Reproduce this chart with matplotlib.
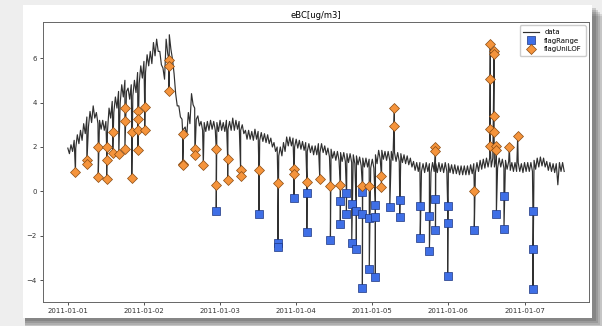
import numpy as np
import pandas as pd
import matplotlib
matplotlib.use("Agg")
import matplotlib.pyplot as plt
import matplotlib.dates as mdates
from matplotlib.patches import Rectangle

# eBC band: upper / lower edge each hour from 2011-01-01 00:00
start = "2011-01-01"
ebc_hi = [
    1.95, 2.1, 2.3, 2.55, 2.75, 3.05, 3.35, 3.6, 3.85, 3.55, 3.2, 3.2,
    3.15, 3.75, 4.05, 4.25, 4.5, 4.8, 5.0, 4.65, 4.8, 5.0, 5.35, 5.65,
    5.85, 6.15, 6.3, 6.7, 6.85, 6.3, 5.55, 6.85, 7.05, 5.95, 4.4, 3.85,
    3.25, 2.9, 3.55, 4.4, 3.75, 3.4, 3.15, 3.1, 3.15, 3.2, 3.15, 3.1,
    3.2, 3.1, 3.2, 3.15, 3.3, 3.2, 3.15, 3.0, 2.75, 2.75, 2.7, 2.8,
    2.7, 2.65, 2.6, 2.55, 2.4, 2.2, 2.0, 2.0, 2.2, 2.45, 2.45, 2.4,
    2.35, 2.3, 2.25, 2.2, 2.15, 2.05, 2.05, 2.15, 2.15, 2.05, 1.95, 1.9,
    1.8, 1.8, 1.75, 1.75, 1.7, 1.7, 1.65, 1.6, 1.55, 1.5, 1.5, 1.45,
    1.45, 1.65, 1.85, 1.85, 1.8, 1.8, 1.8, 1.75, 1.75, 1.7, 1.65, 1.6,
    1.5, 1.35, 1.3, 1.3, 1.25, 1.3, 1.25, 1.3, 1.25, 1.3, 1.25, 1.3,
    1.25, 1.2, 1.2, 1.15, 1.15, 1.15, 1.15, 1.2, 1.25, 1.3, 1.4, 1.45,
    1.5, 1.5, 1.5, 1.45, 1.5, 1.45, 1.4, 1.35, 1.3, 1.3, 1.3, 1.25,
    1.3, 1.3, 1.3, 1.4, 1.5, 1.55, 1.5, 1.35, 1.3, 1.25, 1.25, 1.3, 1.3,
]
ebc_lo = [
    1.7, 1.8, 1.95, 2.15, 2.3, 2.6, 2.9, 3.1, 3.3, 3.05, 2.8, 2.75,
    2.7, 3.3, 3.55, 3.75, 3.95, 4.25, 4.5, 4.15, 4.3, 4.45, 4.85, 5.1,
    5.35, 5.65, 5.75, 6.1, 6.3, 5.7, 5.05, 6.2, 6.4, 5.3, 3.85, 3.35,
    2.8, 2.5, 3.05, 3.9, 3.25, 2.95, 2.75, 2.7, 2.75, 2.8, 2.75, 2.7,
    2.75, 2.7, 2.8, 2.75, 2.75, 2.8, 2.75, 2.6, 2.35, 2.35, 2.3, 2.35,
    2.3, 2.25, 2.2, 2.15, 2.0, 1.8, 1.6, 1.6, 1.8, 2.05, 2.05, 2.0,
    1.95, 1.9, 1.85, 1.8, 1.75, 1.65, 1.65, 1.75, 1.75, 1.65, 1.55, 1.5,
    1.4, 1.4, 1.35, 1.35, 1.3, 1.3, 1.25, 1.2, 1.15, 1.1, 1.1, 1.05,
    1.05, 1.25, 1.45, 1.45, 1.4, 1.4, 1.4, 1.35, 1.35, 1.3, 1.25, 1.2,
    1.1, 0.95, 0.9, 0.9, 0.85, 0.9, 0.85, 0.9, 0.85, 0.9, 0.85, 0.9,
    0.85, 0.8, 0.8, 0.75, 0.75, 0.75, 0.75, 0.8, 0.85, 0.9, 1.0, 1.05,
    1.1, 1.1, 1.1, 1.05, 1.1, 1.05, 1.0, 0.95, 0.9, 0.9, 0.9, 0.85,
    0.9, 0.9, 0.9, 1.0, 1.1, 1.15, 1.1, 0.95, 0.9, 0.85, 0.3, 0.9, 0.9,
]

# flagUniLOF points (days since start, value)
lof_day = [0.10, 0.25, 0.25, 0.40, 0.40, 0.51, 0.51, 0.51, 0.59, 0.59,
           0.67, 0.75, 0.75, 0.75, 0.84, 0.84, 0.92, 0.92, 0.92, 0.92,
           1.01, 1.01, 1.33, 1.33, 1.33, 1.51, 1.51, 1.51, 1.67, 1.67,
           1.78, 1.95, 1.95, 2.10, 2.10, 2.27, 2.27, 2.51, 2.76, 2.97,
           2.97, 3.14, 3.31, 3.45, 3.58, 3.87, 3.96, 4.12, 4.12, 4.29,
           4.29, 4.83, 4.83, 5.34, 5.55, 5.55, 5.55, 5.55, 5.60, 5.60,
           5.60, 5.60, 5.63, 5.63, 5.80, 5.91]
lof_val = [0.87, 1.43, 1.25, 2.00, 0.65, 1.98, 1.43, 0.57, 2.68, 1.73,
           1.70, 3.76, 3.18, 1.91, 2.69, 0.60, 3.63, 3.27, 2.78, 1.88,
           3.78, 2.78, 5.90, 5.63, 4.50, 2.58, 1.25, 1.20, 1.91, 1.62,
           1.17, 1.91, 0.30, 1.46, 0.53, 0.98, 0.71, 0.95, 0.38, 1.01,
           0.78, 0.44, 0.56, 0.26, 0.30, 0.23, 0.23, 0.68, 0.18, 3.74,
           2.96, 1.98, 1.80, 0.03, 6.64, 5.06, 2.81, 2.03, 6.31, 6.19,
           3.38, 2.66, 2.06, 1.88, 1.98, 2.48]

# flagRange points (days since start, value)
rng_day = [1.95, 2.51, 2.76, 2.76, 2.97, 3.14, 3.14, 3.45, 3.58, 3.58,
           3.66, 3.66, 3.73, 3.73, 3.79, 3.79, 3.87, 3.87, 3.87, 3.96,
           3.96, 4.04, 4.04, 4.04, 4.23, 4.36, 4.36, 4.63, 4.63, 4.75,
           4.75, 4.83, 4.83, 4.99, 4.99, 4.99, 5.34, 5.63, 5.73, 5.73,
           6.11, 6.11, 6.11]
rng_val = [-0.90, -1.00, -2.32, -2.52, -0.30, -0.07, -1.83, -2.18, -0.42, -1.45,
           -0.07, -1.02, -0.55, -2.30, -0.87, -2.60, -0.03, -1.02, -4.35, -1.20,
           -3.50, -0.61, -1.15, -3.86, -0.70, -0.37, -1.15, -0.67, -2.10, -1.10,
           -2.66, -0.34, -1.73, -0.64, -1.40, -3.80, -1.73, -1.00, -0.22, -1.67,
           -0.90, -2.60, -4.40]

t0 = pd.Timestamp(start)
hours = t0 + pd.to_timedelta(np.arange(len(ebc_hi)), unit="h")
band = pd.DataFrame({"t": list(hours) + list(hours + pd.Timedelta(minutes=30)),
                     "v": ebc_hi + ebc_lo})
lof = pd.DataFrame({"t": t0 + pd.to_timedelta(lof_day, unit="D"), "v": lof_val})
rng = pd.DataFrame({"t": t0 + pd.to_timedelta(rng_day, unit="D"), "v": rng_val})
data = pd.concat([band, lof, rng]).sort_values("t", kind="stable")

plt.rcParams["font.family"] = "DejaVu Sans"
fig = plt.figure(figsize=(6.02, 3.26), dpi=100, facecolor="#eeeeee")

# screenshot card with a soft shadow
for i, a in enumerate([0.10, 0.12, 0.14, 0.16, 0.18]):
    d = (5 - i) * 2.0
    fig.add_artist(Rectangle((23 / 602 + 0.004, 8 / 326 - d / 326 - 0.003),
                             (569 + d) / 602, 313 / 326,
                             transform=fig.transFigure, color="#303030",
                             alpha=a, lw=0, zorder=-3))
fig.add_artist(Rectangle((23 / 602, 8 / 326), 569 / 602, 313 / 326,
                         transform=fig.transFigure, color="white", lw=0, zorder=-2))

ax = fig.add_axes([43 / 602, 24 / 326, 546 / 602, 280 / 326])
ax.plot(data["t"], data["v"], color="#303030", lw=0.85, label="data", zorder=1)
ax.plot(rng["t"], rng["v"], "s", ms=5.3, color="#3f6fe6", mec="#1c3580", mew=0.5,
        label="flagRange", zorder=3)
ax.plot(lof["t"], lof["v"], "D", ms=4.8, color="#f5943c", mec="#8a4b12", mew=0.5,
        label="flagUniLOF", zorder=4)

ax.set_title("eBC[ug/m3]", fontsize=6, pad=3)
ax.xaxis.set_major_locator(mdates.DayLocator())
ax.xaxis.set_major_formatter(mdates.DateFormatter("%Y-%m-%d"))
ax.set_yticks([-4, -2, 0, 2, 4, 6])
ax.tick_params(labelsize=5, length=2.5, width=0.6, pad=2, colors="#333333")
for s in ax.spines.values():
    s.set_linewidth(0.7)
    s.set_color("#666666")
ax.legend(loc="upper right", fontsize=5, framealpha=1, edgecolor="#cccccc",
          handlelength=2.2, borderpad=0.5, labelspacing=0.4)

fig.savefig("out.png", dpi=100)
